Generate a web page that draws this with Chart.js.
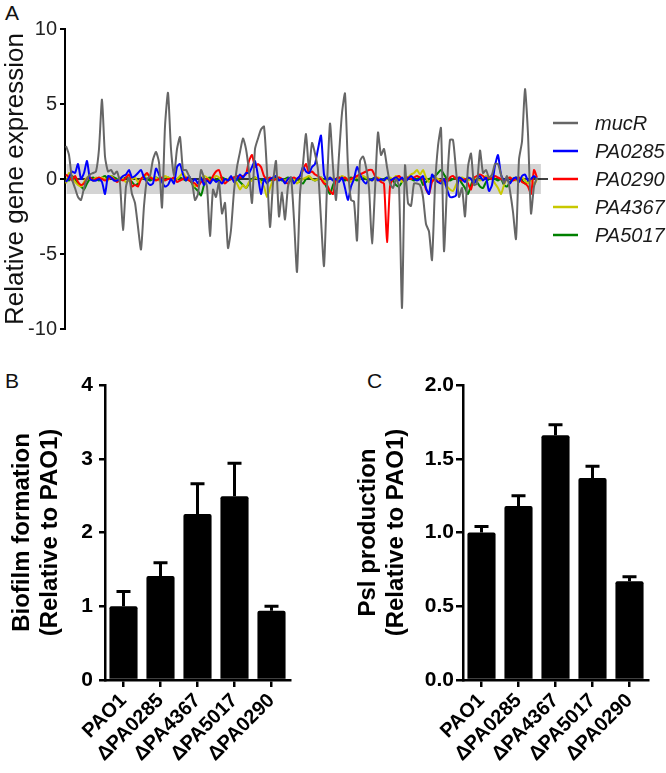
<!DOCTYPE html>
<html><head><meta charset="utf-8">
<script src="https://cdn.jsdelivr.net/npm/chart.js@4/dist/chart.umd.min.js"></script>
<style>
html,body{margin:0;padding:0;background:#fff;}
body{width:666px;height:773px;position:relative;overflow:hidden;font-family:"Liberation Sans",Arial,sans-serif;}
canvas{position:absolute;}
.lbl{position:absolute;font-size:21px;color:#111;line-height:1;}
</style></head><body>
<div class="lbl" style="left:5px;top:2px">A</div>
<div class="lbl" style="left:5px;top:370px">B</div>
<div class="lbl" style="left:367px;top:370px">C</div>
<canvas id="ca" width="666" height="345" style="left:0;top:0"></canvas>
<canvas id="cb" width="333" height="413" style="left:0;top:360px"></canvas>
<canvas id="cc" width="333" height="413" style="left:333px;top:360px"></canvas>
<script>
// ---------- DATA ----------
const geneNames = ['mucR', 'PA0285', 'PA0290', 'PA4367', 'PA5017'];
const mucR = [2.2,1.6,0.0,-0.6,-1.2,-1.4,-0.6,0.0,0.3,0.4,
0.5,2.0,5.3,1.5,0.5,0.6,0.3,0.5,-0.3,-3.4,
-0.5,0.1,-1.0,-1.6,-3.2,-4.7,-1.8,0.0,0.2,1.3,
1.8,1.1,-1.9,3.5,5.75,2.0,0.2,2.0,2.8,0.6,
0.6,0.2,-0.2,-1.4,-1.0,0.6,0.1,-0.5,-3.8,-0.7,
-1.2,-0.2,-2.3,-1.6,-4.6,-3.4,-0.8,0.8,1.8,2.7,
2.0,0.5,-1.6,2.0,2.7,3.3,3.5,0.5,-3.2,-0.3,
1.2,-2.5,-0.9,-2.7,-0.5,0.1,-2.7,-6.2,-1.0,1.0,
3.0,0.6,2.4,1.7,0.6,-2.7,-5.8,-0.5,3.7,0.8,
-1.4,1.6,4.4,5.7,0.8,-1.4,-1.5,-4.1,1.2,1.5,
0.8,-0.6,-4.3,-0.7,3.1,1.6,2.0,0.8,-0.3,-0.6,
0.0,-0.5,-8.6,0.9,-1.6,-1.8,-0.3,-0.3,-0.4,-1.2,
-3.0,-3.5,-5.4,-0.5,2.2,3.4,-4.8,-0.5,2.6,2.6,
0.6,-1.2,-0.6,-2.5,0.8,1.7,-0.4,-0.3,1.9,0.4,
0.6,0.1,0.3,1.0,1.0,0.3,-0.3,0.2,-0.8,-2.2,
-4.0,1.3,2.5,6.0,3.0,-2.3,-0.5,0.1];
const PA0285 = [-0.2,0.1,0.5,0.4,1.0,0.0,0.4,1.2,0.0,-0.1,
-0.1,0.0,-0.2,-1.0,0.2,0.1,-0.1,-0.1,0.0,0.2,
0.3,0.6,0.1,0.2,0.4,0.6,0.1,-0.2,-0.4,-0.3,
0.7,0.3,-0.2,-0.5,-0.4,0.0,-0.3,0.8,1.0,0.3,
-0.1,0.2,-0.2,0.0,-0.3,0.1,-0.4,-0.1,-0.3,0.0,
-0.2,-0.1,-0.3,0.0,-0.1,0.2,-0.2,0.0,0.3,0.1,
0.4,0.4,0.8,1.2,0.2,-1.0,0.0,-0.3,0.0,0.1,
0.2,-0.1,0.0,-0.3,0.0,0.1,-0.3,0.0,0.2,0.8,
0.5,0.4,0.8,1.0,2.0,2.9,0.3,-0.1,0.1,-0.1,
0.0,-0.2,0.1,-0.6,-1.4,-0.5,0.0,0.8,0.3,-0.1,
-0.3,0.0,-0.1,0.1,-0.1,0.0,-0.1,0.1,-0.1,0.0,
0.1,-0.1,0.1,-0.2,0.0,0.2,0.0,-0.1,0.0,0.2,
-0.6,-1.0,0.3,0.0,-0.2,-0.3,0.0,-0.7,-1.2,-1.2,
-1.1,0.1,0.0,-0.2,0.1,0.0,-0.3,0.0,0.2,-0.1,
0.1,-0.8,-0.4,0.9,1.6,0.3,-0.1,0.0,-0.3,0.0,
0.1,-0.2,0.2,0.3,-0.1,0.0,0.2,0.0];
const PA0290 = [0.3,0.1,-0.1,0.2,-0.2,-0.4,-0.3,0.0,0.1,-0.1,
0.0,0.1,0.0,-0.1,0.0,0.1,0.0,-0.2,0.0,-0.1,
0.1,0.3,-0.5,-0.4,-0.5,0.0,0.2,0.4,0.1,0.0,
-0.1,0.0,0.1,-0.1,0.0,0.0,0.1,-0.2,-0.1,0.0,
0.1,-0.1,-0.2,-0.3,-0.5,-0.2,-0.1,0.0,-0.2,0.2,
0.5,0.6,0.0,-0.3,-0.1,0.0,0.1,0.2,0.1,0.2,
0.3,1.2,1.6,0.8,1.0,0.8,0.2,0.0,0.1,-0.1,
0.0,0.1,0.0,-0.2,-0.3,0.0,0.1,0.0,0.2,0.6,
1.0,0.4,0.5,0.3,0.2,0.0,-0.3,-0.4,-0.8,-1.0,
0.0,0.1,0.0,0.1,-0.1,0.0,0.1,0.2,0.3,0.4,
0.5,0.6,0.6,0.2,0.0,-0.2,-0.3,-4.2,-0.5,0.0,
0.1,0.2,0.0,-0.1,0.1,0.0,0.1,0.2,0.1,0.0,
-0.7,-1.0,-0.2,0.0,-0.2,-0.1,0.0,-0.2,0.1,0.2,
0.0,0.1,-0.1,0.0,-0.3,-0.7,0.1,0.2,0.3,0.2,
0.0,0.1,0.0,0.2,0.1,0.0,-0.1,0.0,0.1,-0.1,
0.0,0.1,-0.2,-0.3,-0.5,-1.0,0.6,0.1];
const PA4367 = [-0.3,0.4,0.1,-0.2,-0.4,-0.5,-0.2,0.1,0.0,-0.1,
0.1,0.0,0.1,0.0,-0.1,0.2,0.0,-0.1,0.1,0.0,
-0.2,-0.1,0.0,0.1,-0.2,0.0,0.1,0.3,0.2,0.0,
0.1,-0.1,0.0,0.2,0.1,0.0,-0.1,0.0,0.2,0.4,
0.1,0.0,-0.2,-0.5,-0.3,0.0,0.2,0.1,-0.1,0.0,
0.2,0.1,-0.2,-0.1,0.0,0.1,0.0,-0.3,-0.7,-0.4,
-0.6,-0.2,-0.1,0.1,0.0,-0.2,-0.5,-1.2,-0.6,-0.1,
0.0,0.1,0.0,-0.1,0.0,0.1,0.0,-0.3,-0.1,0.0,
0.1,0.2,0.0,-0.1,0.0,0.1,-0.2,0.0,0.1,0.0,
-0.1,0.0,0.2,0.1,0.0,-0.2,0.0,0.1,0.0,0.2,
0.1,0.0,-0.1,0.0,0.1,0.0,-0.1,0.0,0.1,0.0,
0.2,0.1,-0.2,0.0,0.1,0.3,0.4,0.6,0.3,0.6,
0.1,-0.2,0.0,0.1,0.0,-0.1,-0.3,-0.5,-0.7,-0.8,
-0.4,0.0,0.1,0.0,-0.1,0.0,0.1,0.0,-0.1,0.0,
0.2,0.1,0.0,-0.3,-0.6,-1.0,-0.4,0.0,0.1,0.0,
-0.1,0.0,0.1,-0.1,-0.3,0.0,-0.4,0.0];
const PA5017 = [0.0,-0.1,0.2,0.0,-0.3,-0.5,-0.7,-0.3,0.0,0.1,
0.0,-0.1,0.1,0.2,0.0,0.2,0.1,0.0,-0.1,0.0,
0.1,0.0,-0.2,-0.4,-0.3,0.0,0.1,0.0,-0.1,0.0,
0.1,0.0,-0.1,0.0,0.1,0.0,-0.1,0.0,0.1,0.0,
-0.1,0.0,-0.3,-0.6,-0.8,-1.1,-0.4,0.0,0.1,0.0,
-0.1,0.0,0.1,0.0,-0.1,0.0,0.1,0.0,-0.2,-0.4,
-0.6,-0.3,0.0,0.1,0.0,-0.1,0.0,0.1,-0.1,0.0,
0.1,0.0,-0.1,0.0,0.1,0.0,-0.1,0.0,-0.2,-0.3,
0.0,0.1,0.0,-0.1,0.0,0.1,-0.2,-0.6,-1.0,-0.4,
0.0,0.1,0.0,-0.1,0.0,0.1,0.0,-0.1,0.0,0.1,
0.0,-0.1,0.0,0.1,0.0,-0.1,0.0,0.1,0.0,-0.1,
-0.4,-0.5,-0.2,0.0,0.1,0.0,-0.1,0.0,0.1,-0.4,
-0.2,0.0,0.1,0.2,0.4,0.6,0.3,0.0,-0.1,0.0,
0.1,0.0,-0.3,-0.6,-1.0,-0.4,0.0,-0.2,-0.5,-0.6,
-0.2,0.0,0.1,0.0,-0.1,0.0,-0.4,-0.5,-0.2,0.0,
0.1,0.0,-0.1,-0.3,-0.2,0.0,0.1,0.0];
const geneTicks = [-10, -5, 0, 5, 10];

const strains = ['PAO1', 'ΔPA0285', 'ΔPA4367', 'ΔPA5017', 'ΔPA0290'];
const biofilmMean = [1.00, 1.41, 2.25, 2.49, 0.94];
const biofilmSem  = [0.20, 0.18, 0.41, 0.45, 0.06];
const biofilmTicks = [0, 1, 2, 3, 4];
const pslMean = [1.00, 1.18, 1.66, 1.37, 0.67];
const pslSem  = [0.04, 0.07, 0.07, 0.08, 0.03];
const pslTicks = ['0.0', '0.5', '1.0', '1.5', '2.0'];

// ---------- STYLE ----------
const FAM = '"Liberation Sans", Arial, sans-serif';
const lineColors = ['#666666', '#0000ff', '#ff0000', '#c8c800', '#008000'];
const geneSeries = [mucR, PA0285, PA0290, PA4367, PA5017];

const bandPlugin = {
  id: 'band',
  beforeDatasetsDraw(chart, args, o) {
    const {ctx, scales: {x, y}, chartArea} = chart;
    ctx.save();
    ctx.fillStyle = '#d4d4d4';
    const x0 = x.getPixelForValue(o.from), x1 = x.getPixelForValue(o.to);
    const y0 = y.getPixelForValue(o.hi), y1 = y.getPixelForValue(o.lo);
    ctx.fillRect(x0, y0, x1 - x0, y1 - y0);
    ctx.strokeStyle = '#000';
    ctx.lineWidth = 1.5;
    ctx.beginPath();
    const yz = y.getPixelForValue(0);
    ctx.moveTo(chartArea.left, yz);
    ctx.lineTo(chartArea.right, yz);
    ctx.stroke();
    ctx.restore();
  }
};
const legendPlugin = {
  id: 'sideLegend',
  afterDraw(chart, args, o) {
    const ctx = chart.ctx;
    ctx.save();
    chart.data.datasets.forEach((ds, k) => {
      const yy = o.top + k * o.gap;
      ctx.strokeStyle = ds.borderColor;
      ctx.lineWidth = 2.5;
      ctx.beginPath();
      ctx.moveTo(o.x0, yy); ctx.lineTo(o.x1, yy); ctx.stroke();
      ctx.fillStyle = '#1a1a1a';
      ctx.font = 'italic 20px ' + FAM;
      ctx.textBaseline = 'middle';
      ctx.fillText(ds.label, o.tx, yy + 1);
    });
    ctx.restore();
  }
};
const errPlugin = {
  id: 'errBars',
  afterDatasetsDraw(chart, args, o) {
    const ctx = chart.ctx, y = chart.scales.y;
    const ds = chart.data.datasets[0];
    const meta = chart.getDatasetMeta(0);
    ctx.save();
    ctx.strokeStyle = '#000';
    ctx.lineWidth = 3;
    ctx.lineCap = 'butt';
    meta.data.forEach((bar, i) => {
      const base = y.getPixelForValue(ds.data[i]);
      const top = y.getPixelForValue(ds.data[i] + o.sem[i]);
      ctx.beginPath();
      ctx.moveTo(bar.x, base); ctx.lineTo(bar.x, top);
      ctx.moveTo(bar.x - 7, top); ctx.lineTo(bar.x + 7, top);
      ctx.stroke();
    });
    ctx.restore();
  }
};

// ---------- PANEL A ----------
new Chart(document.getElementById('ca'), {
  type: 'line',
  data: {
    datasets: geneNames.map((n, k) => ({
      label: n,
      data: geneSeries[k].map((v, i) => ({x: i, y: v})),
      borderColor: lineColors[k],
      borderWidth: 2,
      pointRadius: 0,
      tension: 0.2,
      fill: false
    }))
  },
  plugins: [bandPlugin, legendPlugin],
  options: {
    responsive: false, animation: false, events: [],
    layout: {padding: {left: 0, right: 118, top: 29, bottom: 16}},
    plugins: {
      legend: {display: false}, tooltip: {enabled: false},
      band: {from: 0.2, to: 158.3, lo: -1, hi: 1},
      sideLegend: {x0: 553, x1: 578, tx: 595, top: 123, gap: 28}
    },
    scales: {
      x: {type: 'linear', min: -1/3, max: 160 + 2/3, display: false},
      y: {
        min: geneTicks[0], max: geneTicks[geneTicks.length - 1],
        afterBuildTicks(s) { s.ticks = geneTicks.map(v => ({value: v})); },
        ticks: {color: '#222', font: {size: 20, family: FAM}, padding: 3},
        grid: {display: true, drawOnChartArea: false, drawTicks: true, tickLength: 5, color: '#000', lineWidth: 2},
        border: {display: true, color: '#000', width: 2},
        title: {display: true, text: 'Relative gene expression', color: '#111',
                font: {size: 26, family: FAM}, padding: {top: 0, bottom: 0}},
        afterFit(s) { s.width = 65; }
      }
    }
  }
});

// ---------- PANELS B, C ----------
function barChart(id, means, sems, ticks, titleLines, yWidth, padRight, titlePad, tickPad, tickLen) {
  const tv = ticks.map(Number);
  return new Chart(document.getElementById(id), {
    type: 'bar',
    data: {labels: strains, datasets: [{data: means, backgroundColor: '#000', borderWidth: 0,
      borderRadius: 2, borderSkipped: 'bottom', barPercentage: 0.76, categoryPercentage: 1}]},
    plugins: [errPlugin],
    options: {
      responsive: false, animation: false, events: [],
      layout: {padding: {left: 0, right: padRight, top: 25, bottom: 0}},
      plugins: {legend: {display: false}, tooltip: {enabled: false}, errBars: {sem: sems}},
      scales: {
        x: {
          grid: {display: true, offset: false, drawOnChartArea: false, drawTicks: true, tickLength: 7, color: '#000', lineWidth: 2.5},
          border: {display: true, color: '#000', width: 2.5},
          ticks: {color: '#000', font: {size: 20, weight: 'bold', family: FAM}, minRotation: 45, maxRotation: 45,
                  padding: 2, autoSkip: false},
          afterFit(s) { s.height = 93; }
        },
        y: {
          min: tv[0], max: tv[tv.length - 1],
          afterBuildTicks(s) { s.ticks = tv.map(v => ({value: v})); },
          ticks: {color: '#000', font: {size: 21, weight: 'bold', family: FAM}, padding: tickPad,
                  callback: (v, i) => String(ticks[i])},
          grid: {display: true, drawOnChartArea: false, drawTicks: true, tickLength: tickLen, color: '#000', lineWidth: 2.5},
          border: {display: true, color: '#000', width: 2.5},
          title: {display: true, text: titleLines, color: '#000',
                  font: {size: 24, weight: 'bold', family: FAM, lineHeight: 1.2}, padding: {top: titlePad, bottom: 0}},
          afterFit(s) { s.width = yWidth; }
        }
      }
    }
  });
}
barChart('cb', biofilmMean, biofilmSem, biofilmTicks, ['Biofilm formation', '(Relative to PAO1)'], 105, 43, 7.5, 6, 6);
barChart('cc', pslMean, pslSem, pslTicks, ['Psl production', '(Relative to PAO1)'], 130, 18, 20.5, 2, 7);
</script>
</body></html>
